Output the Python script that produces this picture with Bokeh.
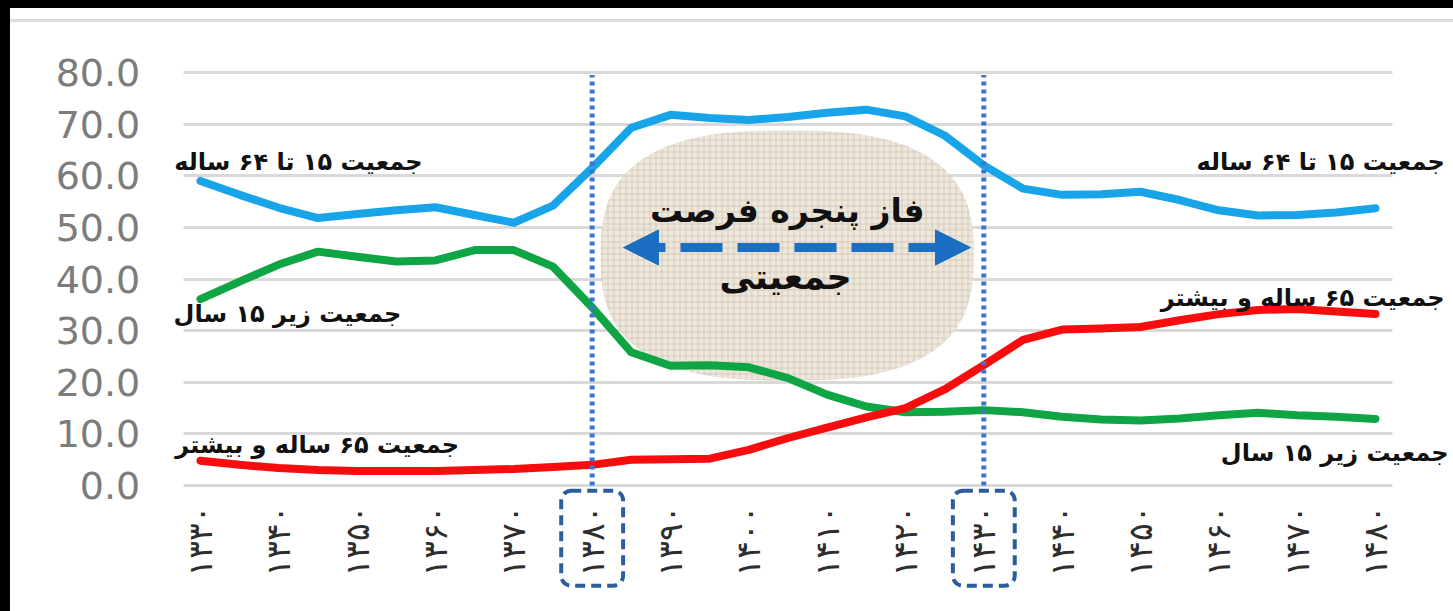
import numpy as np
from bokeh.plotting import figure
from bokeh.models import (Range1d, FixedTicker, PrintfTickFormatter, Label, Arrow,
                          NormalHead, BoxAnnotation, ColumnDataSource)
from bokeh.layouts import column
from bokeh.embed import file_html
from bokeh.resources import INLINE

# Share of population by broad age group (percent), Iranian calendar years
years = [1330, 1335, 1340, 1345, 1350, 1355, 1360, 1365, 1370, 1375, 1380,
         1385, 1390, 1395, 1400, 1405, 1410, 1415, 1420, 1425, 1430, 1435,
         1440, 1445, 1450, 1455, 1460, 1465, 1470, 1475, 1480]
age_15_64 = [59.0, 56.3, 53.8, 51.8, 52.6, 53.3, 53.9, 52.4, 50.9, 54.2, 61.5,
             69.3, 71.8, 71.2, 70.8, 71.4, 72.2, 72.8, 71.5, 67.8, 62.0, 57.5,
             56.3, 56.4, 56.9, 55.3, 53.3, 52.3, 52.4, 52.9, 53.7]
age_under_15 = [36.1, 39.5, 42.8, 45.3, 44.3, 43.4, 43.6, 45.6, 45.6, 42.4, 34.5,
                25.8, 23.2, 23.3, 22.9, 20.8, 17.6, 15.3, 14.2, 14.3, 14.6, 14.2,
                13.3, 12.8, 12.6, 13.0, 13.6, 14.1, 13.6, 13.3, 12.9]
age_65_plus = [4.8, 4.0, 3.4, 3.0, 2.8, 2.8, 2.8, 3.0, 3.2, 3.6, 4.0,
               5.0, 5.1, 5.2, 6.9, 9.2, 11.2, 13.2, 15.0, 18.6, 23.3, 28.2,
               30.2, 30.4, 30.7, 32.0, 33.2, 34.0, 34.2, 33.7, 33.2]

tick_years = [1330, 1340, 1350, 1360, 1370, 1380, 1390, 1400, 1410, 1420,
              1430, 1440, 1450, 1460, 1470, 1480]
tick_labels = ["۱۳۳۰", "۱۳۴۰", "۱۳۵۰", "۱۳۶۰", "۱۳۷۰", "۱۳۸۰", "۱۳۹۰", "۱۴۰۰",
               "۱۴۱۰", "۱۴۲۰", "۱۴۳۰", "۱۴۴۰", "۱۴۵۰", "۱۴۶۰", "۱۴۷۰", "۱۴۸۰"]
y_ticks = [0, 10, 20, 30, 40, 50, 60, 70, 80]

# Demographic window: start and end years
window_years = [1380, 1430]

name_15_64 = "جمعیت ۱۵ تا ۶۴ ساله"
name_under_15 = "جمعیت زیر ۱۵ سال"
name_65_plus = "جمعیت ۶۵ ساله و بیشتر"
window_title = "فاز پنجره فرصت"
window_title2 = "جمعیتی"

BLUE = "#18a4e8"
GREEN = "#0fa545"
RED = "#f70d0d"
PERSIAN_FONT = "DejaVu Sans"

# The frame fills the whole canvas so that annotations placed beside the
# plotting area (end labels, framed tick labels) are not clipped.
W, H = 1443, 589
PX_PER_YEAR, PX_PER_UNIT = 7.833, 5.1625
X0_PX, Y0_PX = 190, 463          # canvas position of (1330, 0)
x_lo = 1330 - X0_PX / PX_PER_YEAR
x_hi = 1330 + (W - X0_PX) / PX_PER_YEAR
y_hi = Y0_PX / PX_PER_UNIT
y_lo = -(H - Y0_PX) / PX_PER_UNIT
plot_left, plot_right = 1327.8, 1482.2

p = figure(width=W, height=H,
           x_range=Range1d(x_lo, x_hi), y_range=Range1d(y_lo, y_hi),
           output_backend="svg", toolbar_location=None, min_border=0,
           min_border_left=0, min_border_right=0, min_border_top=0, min_border_bottom=0)
p.outline_line_color = None
p.background_fill_color = "white"
p.border_fill_color = "white"

# axes
p.yaxis.fixed_location = plot_left
p.yaxis.ticker = FixedTicker(ticks=y_ticks)
p.yaxis.formatter = PrintfTickFormatter(format="%.1f")
p.yaxis.axis_line_color = None
p.yaxis.major_tick_line_color = None
p.yaxis.minor_tick_line_color = None
p.yaxis.major_tick_out = 0
p.yaxis.major_tick_in = 0
p.yaxis.major_label_standoff = 43
p.yaxis.major_label_text_font = "DejaVu Sans"
p.yaxis.major_label_text_font_size = "38px"
p.yaxis.major_label_text_color = "#7c7c7c"

p.xaxis.fixed_location = 0
p.xaxis.ticker = FixedTicker(ticks=tick_years)
p.xaxis.major_label_overrides = {y: lbl for y, lbl in zip(tick_years, tick_labels)}
p.xaxis.major_label_orientation = np.pi / 2
p.xaxis.axis_line_color = None
p.xaxis.major_tick_line_color = None
p.xaxis.minor_tick_line_color = None
p.xaxis.major_tick_out = 0
p.xaxis.major_tick_in = 0
p.xaxis.major_label_standoff = 20
p.xaxis.major_label_text_font = PERSIAN_FONT
p.xaxis.major_label_text_font_size = "33px"
p.xaxis.major_label_text_color = "#2e2e2e"

p.xgrid.grid_line_color = None
p.ygrid.grid_line_color = "#d9d9d9"
p.ygrid.grid_line_width = 3
p.ygrid.cross_bounds = (plot_left, plot_right)

# textured "window of opportunity" blob
t = np.linspace(0, 2 * np.pi, 240)
n = 2.7
cx, cy, ax_, ay_ = 1404.9, 44.55, 23.8, 24.2
blob_x = cx + ax_ * np.sign(np.cos(t)) * np.abs(np.cos(t)) ** (2 / n)
blob_y = cy + ay_ * np.sign(np.sin(t)) * np.abs(np.sin(t)) ** (2 / n)
p.patch(blob_x, blob_y, fill_color="#ebe4d8", fill_alpha=0.9, line_color=None,
        hatch_pattern="+", hatch_color="#c4b8a2", hatch_alpha=0.55,
        hatch_scale=6, hatch_weight=1)

src = ColumnDataSource(dict(year=years, a=age_15_64, b=age_under_15, c=age_65_plus))
for col, color in (("a", BLUE), ("b", GREEN), ("c", RED)):
    p.line("year", col, source=src, line_color=color, line_width=8,
           line_join="round", line_cap="round")

# dotted verticals marking the window, and framed tick labels
for wy in window_years:
    p.segment(x0=wy, y0=0, x1=wy, y1=79.5, line_color="#3a76d0",
              line_width=5, line_dash="4 4")
    p.add_layout(BoxAnnotation(left=wy - 3.95, right=wy + 3.95, top=-1.0, bottom=-19.4,
                               fill_alpha=0, line_alpha=1.0, line_color="#2d5e9c",
                               line_width=4, line_dash="10 6", border_radius=10))

# double headed dashed arrow
arrow_color = "#1b6ec2"
p.add_layout(Arrow(x_start=1384.0, y_start=46.1, x_end=1428.3, y_end=46.1,
                   line_color=arrow_color, line_width=9, line_dash="42 15",
                   start=NormalHead(size=35, fill_color=arrow_color, line_color=arrow_color),
                   end=NormalHead(size=35, fill_color=arrow_color, line_color=arrow_color)))

def add_text(x, y, text, size="24px"):
    p.add_layout(Label(x=x, y=y, text=text, text_align="center", text_baseline="middle",
                       text_font=PERSIAN_FONT, text_font_style="bold",
                       text_font_size=size, text_color="#111111"))

add_text(1342.5, 62.6, name_15_64)
add_text(1473.0, 62.6, name_15_64)
add_text(1341.1, 33.3, name_under_15)
add_text(1474.8, 6.2, name_under_15)
add_text(1344.9, 7.75, name_65_plus)
add_text(1470.7, 36.4, name_65_plus)
add_text(1404.9, 53.3, window_title, "33px")
add_text(1404.7, 40.3, window_title2, "35px")

inner = column(p, styles={"border-top": "3px solid #dcdcdc", "background-color": "white"})
mid = column(inner, styles={"padding-top": "11px", "background-color": "white"})
outer = column(mid, styles={"padding-top": "8px", "padding-left": "10px",
                            "background-color": "black"})

open("out.html", "w").write(file_html(outer, INLINE))
